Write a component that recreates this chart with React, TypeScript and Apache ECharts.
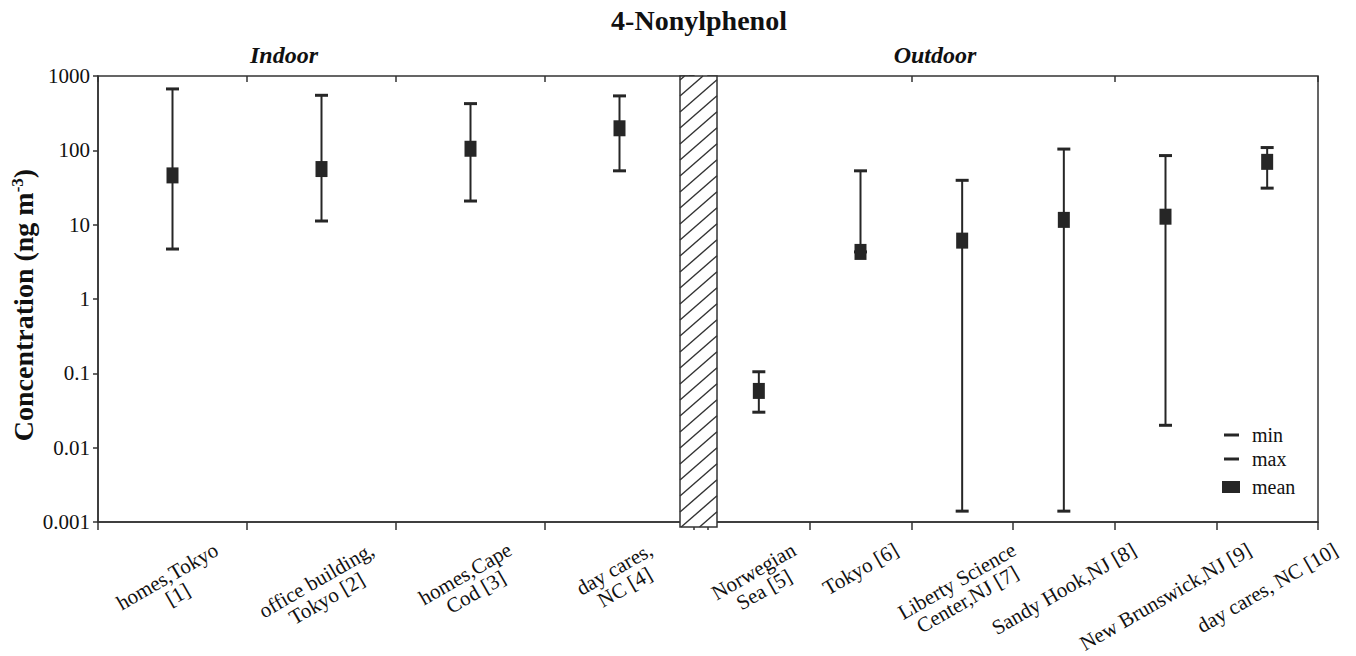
import React, { useEffect, useRef } from "react";
import * as echarts from "echarts";

// ---------- data ----------
const indoorCategories = [
  "homes,Tokyo\n[1]",
  "office building,\nTokyo [2]",
  "homes,Cape\nCod [3]",
  "day cares,\nNC [4]",
];
const outdoorCategories = [
  "Norwegian\nSea [5]",
  "Tokyo [6]",
  "Liberty Science\nCenter,NJ [7]",
  "Sandy Hook,NJ [8]",
  "New Brunswick,NJ [9]",
  "day cares, NC [10]",
];
const indoorMin = [4.7, 11.2, 20.8, 53];
const indoorMax = [670, 550, 425, 540];
const indoorMean = [46, 56, 105, 198];
const outdoorMin = [0.03, 4.3, 0.0014, 0.0014, 0.02, 31];
const outdoorMax = [0.105, 53, 39.5, 104, 85, 109];
const outdoorMean = [0.058, 4.3, 6.1, 11.6, 12.8, 70];
const yTickLabels = ["0.001", "0.01", "0.1", "1", "10", "100", "1000"];

// ---------- layout / style ----------
const SERIF = '"Liberation Serif", "Times New Roman", Times, serif';
const INK = "#262626";
const AXIS = "#333";
const TOP = 76;
const PH = 446;
const G1 = { left: 98, width: 596 };
const G2 = { left: 708, width: 610 };
const HATCH = { x0: 680, x1: 717, y0: 76, y1: 527 };
const XL_FONT = 21;
const XL_LH = 21;
const XL_MARGIN = 38;
const XL_TOP = 17; // axis -> top of the rotated label's bounding box
const ROT = 30;

function hatchLines() {
  const { x0, x1, y0, y1 } = HATCH;
  const w = x1 - x0;
  const s = 0.87;
  const step = 16;
  const els: any[] = [];
  for (let b = y0 + 4; b < y1 + s * w; b += step) {
    let sx = x0, sy = b;
    if (sy > y1) { sx = x0 + (b - y1) / s; sy = y1; }
    let ex = x1, ey = b - s * w;
    if (ey < y0) { ex = x0 + (b - y0) / s; ey = y0; }
    if (ex - sx < 1) continue;
    els.push({
      type: "line",
      z: 101,
      shape: { x1: sx, y1: sy, x2: ex, y2: ey },
      style: { stroke: AXIS, lineWidth: 1.4 },
    });
  }
  return els;
}

// Excel-like placement of rotated labels: each bounding box hangs from a fixed
// line below the axis and is centred on its category. The downward push is split
// into a shift along the text (right padding) and across it (a spacer line).
function labelShifts(cats: string[]) {
  const ctx = document.createElement("canvas").getContext("2d")!;
  ctx.font = `${XL_FONT}px ${SERIF}`;
  const r = (ROT * Math.PI) / 180;
  return cats.map((c) => {
    const lines = c.split("\n");
    const L = Math.max(...lines.map((l) => ctx.measureText(l).width));
    const H = lines.length * XL_LH;
    const hv = (L / 2) * Math.sin(r) + (H / 2) * Math.cos(r);
    return Math.max(0, XL_TOP + hv - XL_MARGIN);
  });
}

const rangeRender = (params: any, api: any) => {
  const i = api.value(0);
  const lo = api.coord([i, api.value(1)]);
  const hi = api.coord([i, api.value(2)]);
  return {
    type: "line",
    shape: { x1: lo[0], y1: lo[1], x2: hi[0], y2: hi[1] },
    style: { stroke: INK, lineWidth: 2 },
  };
};

function makeSeries(grid: number, mins: number[], maxs: number[], means: number[]) {
  const common = { xAxisIndex: grid, yAxisIndex: grid, symbol: "rect", itemStyle: { color: INK, opacity: 1 } };
  return [
    {
      type: "custom",
      name: "range" + grid,
      xAxisIndex: grid,
      yAxisIndex: grid,
      z: 2,
      renderItem: rangeRender,
      encode: { x: 0, y: [1, 2] },
      data: mins.map((v, i) => [i, v, maxs[i]]),
    },
    { ...common, type: "scatter", name: "min", z: 3, symbolSize: [13, 3], data: mins.map((v, i) => [i, v]) },
    { ...common, type: "scatter", name: "max", z: 3, symbolSize: [13, 3], data: maxs.map((v, i) => [i, v]) },
    { ...common, type: "scatter", name: "mean", z: 4, symbolSize: [12, 16], data: means.map((v, i) => [i, v]) },
  ];
}

function mainX(grid: number, cats: string[]) {
  const shifts = labelShifts(cats);
  const r = (ROT * Math.PI) / 180;
  const textRich = { fontSize: XL_FONT, lineHeight: XL_LH, color: "#111", fontFamily: SERIF };
  const rich: any = { t: textRich };
  shifts.forEach((d, i) => {
    rich["s" + i] = { fontSize: 1, lineHeight: Math.max(0.01, 2 * Math.cos(r) * d) };
  });
  return {
    type: "category",
    gridIndex: grid,
    data: cats.map((c, i) => ({
      value: c,
      textStyle: { align: "center", verticalAlign: "middle", padding: [0, 2 * Math.sin(r) * shifts[i], 0, 0] },
    })),
    boundaryGap: true,
    axisLine: { show: true, lineStyle: { color: AXIS, width: 1.5 } },
    axisTick: { show: true, length: 8, lineStyle: { color: AXIS, width: 1.5 } },
    axisLabel: {
      interval: 0,
      rotate: ROT,
      align: "center",
      verticalAlign: "middle",
      margin: XL_MARGIN,
      fontSize: XL_FONT,
      lineHeight: XL_LH,
      color: "#111",
      fontFamily: SERIF,
      hideOverlap: false,
      formatter: (v: string, i: number) =>
        `{s${i}| }\n` + v.split("\n").map((l) => `{t|${l}}`).join("\n"),
      rich,
    },
    splitLine: { show: false },
  };
}
function tickX(grid: number, data: string[]) {
  return {
    type: "category",
    gridIndex: grid,
    data,
    boundaryGap: true,
    axisLine: { show: false },
    axisTick: { show: true, inside: true, length: 6, lineStyle: { color: AXIS, width: 1.5 } },
    axisLabel: { show: false },
    splitLine: { show: false },
  };
}

const yFmt = (v: number) => {
  const k = Math.round(Math.log10(v)) + 3;
  return yTickLabels[k] ?? "";
};

export default function App() {
  const ref = useRef<HTMLDivElement>(null);
  useEffect(() => {
    document.body.style.margin = "0";
    if (!ref.current) return;
    const chart = echarts.init(ref.current, null, { renderer: "svg" });
    const titleStyle = { fontSize: 24, fontWeight: "bold", fontStyle: "italic", color: "#111", fontFamily: SERIF };
    const legendText = { fontSize: 20, color: "#111", fontFamily: SERIF };
    const gridBase = {
      top: TOP,
      height: PH,
      show: true,
      borderColor: AXIS,
      borderWidth: 1.5,
      backgroundColor: "transparent",
      containLabel: false,
      outerBoundsMode: "none",
    };
    const option: any = {
      animation: false,
      backgroundColor: "#fff",
      textStyle: { fontFamily: SERIF },
      title: [
        {
          text: "4-Nonylphenol",
          left: 699,
          top: 6,
          padding: 0,
          textAlign: "center",
          textStyle: { fontSize: 28, fontWeight: "bold", color: "#111", fontFamily: SERIF },
        },
        { text: "Indoor", left: 284, top: 43, padding: 0, textAlign: "center", textStyle: titleStyle },
        { text: "Outdoor", left: 935, top: 43, padding: 0, textAlign: "center", textStyle: titleStyle },
      ],
      legend: [
        {
          data: ["min", "max"],
          orient: "vertical",
          left: 1224,
          top: 425,
          padding: 0,
          itemWidth: 15,
          itemHeight: 3,
          itemGap: 4,
          icon: "rect",
          selectedMode: false,
          textStyle: { ...legendText, padding: [0, 0, 0, 8] },
        },
        {
          data: ["mean"],
          orient: "vertical",
          left: 1222,
          top: 477,
          padding: 0,
          itemWidth: 18,
          itemHeight: 12,
          icon: "rect",
          selectedMode: false,
          textStyle: { ...legendText, padding: [0, 0, 0, 7] },
        },
      ],
      grid: [
        { ...gridBase, left: G1.left, width: G1.width },
        { ...gridBase, left: G2.left, width: G2.width },
      ],
      xAxis: [
        mainX(0, indoorCategories),
        mainX(1, outdoorCategories),
        tickX(0, indoorCategories),
        tickX(1, outdoorCategories),
      ],
      yAxis: [
        {
          type: "log",
          gridIndex: 0,
          logBase: 10,
          min: 0.001,
          max: 1000,
          axisLine: { show: true, lineStyle: { color: AXIS, width: 1.5 } },
          axisTick: { show: true, length: 5, lineStyle: { color: AXIS, width: 1.5 } },
          axisLabel: { formatter: yFmt, fontSize: 21, color: "#111", margin: 8, fontFamily: SERIF },
          splitLine: { show: false },
          minorTick: { show: false },
          name: "Concentration (ng m{sup|-3})",
          nameLocation: "middle",
          nameRotate: 90,
          nameGap: 61,
          nameTextStyle: {
            fontSize: 28,
            fontWeight: "bold",
            color: "#111",
            fontFamily: SERIF,
            padding: [0, 12, 0, 0],
            rich: { sup: { fontSize: 17, fontWeight: "bold", verticalAlign: "top", color: "#111", fontFamily: SERIF } },
          },
        },
        {
          type: "log",
          gridIndex: 1,
          logBase: 10,
          min: 0.001,
          max: 1000,
          show: false,
          splitLine: { show: false },
        },
        {
          type: "log",
          gridIndex: 0,
          logBase: 10,
          min: 0.001,
          max: 1000,
          axisLine: { show: false },
          axisTick: { show: true, inside: true, length: 5, lineStyle: { color: AXIS, width: 1.5 } },
          axisLabel: { show: false },
          splitLine: { show: false },
        },
      ],
      graphic: [
        {
          type: "rect",
          z: 100,
          shape: { x: HATCH.x0, y: HATCH.y0, width: HATCH.x1 - HATCH.x0, height: HATCH.y1 - HATCH.y0 },
          style: { fill: "#fff", stroke: AXIS, lineWidth: 1.5 },
        },
        ...hatchLines(),
      ],
      series: [
        ...makeSeries(0, indoorMin, indoorMax, indoorMean),
        ...makeSeries(1, outdoorMin, outdoorMax, outdoorMean),
      ],
    };
    chart.setOption(option);
    return () => chart.dispose();
  }, []);
  return <div ref={ref} style={{ width: 1356, height: 656 }} />;
}
